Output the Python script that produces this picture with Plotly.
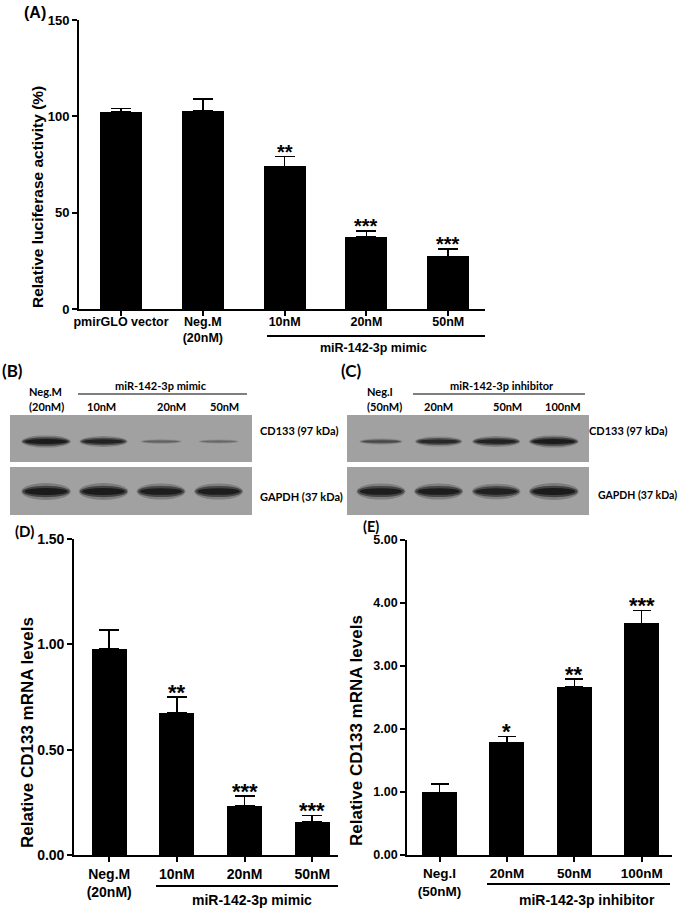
import plotly.graph_objects as go

# ---------------- data ----------------
a_labels = ["pmirGLO vector", "Neg.M<br>(20nM)", "10nM", "20nM", "50nM"]
a_values = [102.1, 102.8, 74.0, 37.5, 27.3]
a_err = [1.9, 6.1, 5.1, 2.9, 3.8]
a_stars = ["", "", "**", "***", "***"]

d_labels = ["Neg.M<br>(20nM)", "10nM", "20nM", "50nM"]
d_values = [0.979, 0.673, 0.233, 0.157]
d_err = [0.089, 0.078, 0.047, 0.031]
d_stars = ["", "**", "***", "***"]

e_labels = ["Neg.I<br>(50nM)", "20nM", "50nM", "100nM"]
e_values = [0.995, 1.788, 2.672, 3.677]
e_err = [0.132, 0.095, 0.122, 0.206]
e_stars = ["", "*", "**", "***"]

# western blot band intensities (relative)
b_cd133 = [1.0, 0.85, 0.15, 0.1]
b_gapdh = [1.0, 1.0, 0.95, 0.95]
c_cd133 = [0.35, 0.75, 0.85, 1.0]
c_gapdh = [0.95, 0.95, 0.9, 1.0]

# ---------------- layout helpers ----------------
W, H = 685, 910
ARIAL = "Liberation Sans, Arial, sans-serif"
CALI = "Lato, Open Sans, sans-serif"


def px(x):
    return x / W


def py(y):
    return 1 - y / H


fig = go.Figure()


def add_bars(vals, errs, xa, ya, width, capw):
    fig.add_trace(go.Bar(
        x=list(range(len(vals))), y=vals, width=width,
        marker=dict(color="black", line=dict(width=0)),
        error_y=dict(type="data", symmetric=False, array=errs,
                     arrayminus=[0] * len(vals), color="black",
                     thickness=1.6, width=capw),
        xaxis=xa, yaxis=ya, showlegend=False, hoverinfo="skip"))


add_bars(a_values, a_err, "x", "y", 0.514, 10)
add_bars(d_values, d_err, "x2", "y2", 0.517, 10)
add_bars(e_values, e_err, "x3", "y3", 0.52, 9)

annotations = []
shapes = []


def stars(vals, errs, labs, xr, yr, size, shift):
    for i, (v, e, s) in enumerate(zip(vals, errs, labs)):
        if s:
            annotations.append(dict(x=i, y=v + e, xref=xr, yref=yr, text=s,
                                    showarrow=False, yanchor="bottom",
                                    yshift=shift,
                                    font=dict(family=ARIAL, size=size,
                                              color="black", weight="bold")))


stars(a_values, a_err, a_stars, "x", "y", 20, -8)
stars(d_values, d_err, d_stars, "x2", "y2", 22, -10)
stars(e_values, e_err, e_stars, "x3", "y3", 22, -10)


def text(t, x, y, size, fam=ARIAL, xanchor="center", angle=0, yanchor="middle"):
    annotations.append(dict(x=px(x), y=py(y), xref="paper", yref="paper",
                            text=t, showarrow=False, xanchor=xanchor,
                            yanchor=yanchor, textangle=angle,
                            font=dict(family=fam, size=size, color="black",
                                      weight="bold")))


def hline(x0, x1, y, w=2):
    shapes.append(dict(type="line", xref="paper", yref="paper",
                       x0=px(x0), x1=px(x1), y0=py(y), y1=py(y),
                       line=dict(color="black", width=w)))


# panel A texts
text("(A)", 35, 13, 16)
text("Relative luciferase activity (%)", 37, 197, 15.5, angle=-90)
hline(267, 485, 336)
text("miR-142-3p mimic", 374, 348, 12.5)

# panel D texts
text("(D)", 24, 531, 15, fam=CALI)
text("Relative CD133 mRNA levels", 27, 733, 17, angle=-90)
hline(156, 338, 886)
text("miR-142-3p mimic", 252, 910, 14, yanchor="bottom")

# panel E texts
text("(E)", 371, 526, 14.5, fam=CALI)
text("Relative CD133 mRNA levels", 356, 731, 17, angle=-90)
hline(487, 670, 884)
text("miR-142-3p inhibitor", 587, 910, 14, yanchor="bottom")

# ---------------- blots ----------------
BLOT_BG = "#a1a1a1"
BAND = "#141414"


def blot(xa, ya, cd, gp):
    for y0, y1 in [(53, 100), (0, 48)]:
        shapes.append(dict(type="rect", xref=xa + " domain", yref=ya,
                           x0=0, x1=1, y0=y0, y1=y1, layer="below",
                           fillcolor=BLOT_BG, line=dict(width=0)))
    for row, yc, hmax in [(cd, 73.5, 4.2), (gp, 23.5, 5.8)]:
        for i, inten in enumerate(row):
            hw = 0.33 + 0.08 * inten
            hh = hmax * (0.3 + 0.7 * inten)
            for ks, kh, op in [(1.05, 1.45, 0.25), (1.0, 1.0, 0.55), (0.9, 0.6, 0.85)]:
                shapes.append(dict(type="circle", xref=xa, yref=ya,
                                   x0=i - hw * ks, x1=i + hw * ks,
                                   y0=yc - hh * kh, y1=yc + hh * kh,
                                   fillcolor=BAND, opacity=op * (0.2 + 0.8 * inten),
                                   line=dict(width=0)))


blot("x4", "y4", b_cd133, b_gapdh)
blot("x5", "y5", c_cd133, c_gapdh)

BS = 11
# blot labels B
text("(B)", 12, 370, 17, fam=CALI)
text("Neg.M", 27, 391, BS, fam=CALI, xanchor="left")
text("(20nM)", 27, 406, BS, fam=CALI, xanchor="left")
text("miR-142-3p mimic", 161, 385, BS, fam=CALI)
hline(78, 247, 394, 1.2)
text("10nM", 101, 406, BS, fam=CALI)
text("20nM", 171, 406, BS, fam=CALI)
text("50nM", 224, 406, BS, fam=CALI)
text("CD133 (97 kDa)", 258, 430, BS, fam=CALI, xanchor="left")
text("GAPDH (37 kDa)", 258, 497, BS, fam=CALI, xanchor="left")

# blot labels C
text("(C)", 351, 370, 17, fam=CALI)
text("Neg.I", 365, 391, BS, fam=CALI, xanchor="left")
text("(50nM)", 365, 406, BS, fam=CALI, xanchor="left")
text("miR-142-3p inhibitor", 502, 385, BS, fam=CALI)
hline(413, 585, 394, 1.2)
text("20nM", 438, 406, BS, fam=CALI)
text("50nM", 507, 406, BS, fam=CALI)
text("100nM", 563, 406, BS, fam=CALI)
text("CD133 (97 kDa)", 587, 430, BS, fam=CALI, xanchor="left")
text("GAPDH (37 kDa)", 596, 495, 10.5, fam=CALI, xanchor="left")


# ---------------- axes ----------------
def xax(dom, rng, labels, anchor, size, lw, standoff=0):
    return dict(domain=[px(dom[0]), px(dom[1])], range=rng, anchor=anchor,
                tickmode="array", tickvals=list(range(len(labels))),
                ticktext=labels, ticks="outside", ticklen=5, tickwidth=1.5,
                tickcolor="black", showline=True, linecolor="black",
                linewidth=lw, showgrid=False, zeroline=False, automargin=False,
                ticklabelstandoff=standoff,
                tickfont=dict(family=ARIAL, size=size, color="black",
                              weight="bold"), fixedrange=True)


def yax(dom, rng, vals, fmt, anchor, size, lw):
    return dict(domain=[py(dom[1]), py(dom[0])], range=rng, anchor=anchor,
                tickmode="array", tickvals=vals,
                ticktext=[fmt.format(v) for v in vals], ticks="outside",
                ticklen=5, tickwidth=1.5, tickcolor="black", showline=True,
                linecolor="black", linewidth=lw, showgrid=False,
                zeroline=False, automargin=False,
                tickfont=dict(family=ARIAL, size=size, color="black",
                              weight="bold"), fixedrange=True)


def hidden(dom_x, rng, anchor):
    return dict(domain=dom_x, range=rng, anchor=anchor, visible=False,
                fixedrange=True, automargin=False)


layout = dict(
    template="none",
    width=W, height=H, margin=dict(l=0, r=0, t=0, b=0, pad=0, autoexpand=False),
    paper_bgcolor="white", plot_bgcolor="rgba(0,0,0,0)",
    showlegend=False, bargap=0,
    xaxis=xax((79, 485), [-0.514, 4.45], a_labels, "y", 12.5, 2, standoff=-5),
    yaxis=yax((20, 309), [0, 150], [0, 50, 100, 150], "{:.0f}", "x", 13, 2),
    xaxis2=xax((74, 338), [-0.52, 3.38], d_labels, "y2", 14, 1.6),
    yaxis2=yax((539, 855), [0, 1.5], [0, 0.5, 1.0, 1.5], "{:.2f}", "x2", 14, 1.6),
    xaxis3=xax((407, 672), [-0.483, 3.45], e_labels, "y3", 13.5, 1.6),
    yaxis3=yax((540, 855), [0, 5], [0, 1, 2, 3, 4, 5], "{:.2f}", "x3", 12.5, 1.6),
    xaxis4=hidden([px(10), px(252)], [-0.626, 3.58], "y4"),
    yaxis4=hidden([py(515), py(415)], [0, 100], "x4"),
    xaxis5=hidden([px(347), px(589)], [-0.59, 3.61], "y5"),
    yaxis5=hidden([py(515), py(415)], [0, 100], "x5"),
    annotations=annotations, shapes=shapes,
)
fig.update_layout(**layout)
fig.write_html("out.html",
               config={"displayModeBar": False},
               post_script="document.body.style.margin='0';"
                           "document.body.style.overflow='hidden';")
